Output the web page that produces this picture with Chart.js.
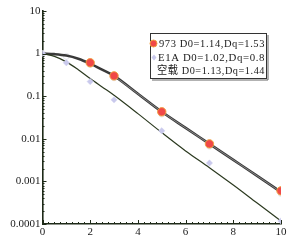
<!DOCTYPE html>
<html>
<head>
<meta charset="utf-8">
<script src="https://cdn.jsdelivr.net/npm/chart.js@4"></script>
<style>
  html, body { margin: 0; padding: 0; background: #fff; }
  canvas { display: block; }
</style>
</head>
<body>
<canvas id="survival-chart" width="300" height="249"></canvas>
<script>
// dose (x) and surviving fraction (y)
const doseX = [0, 2, 3, 5, 7, 10];
const cell973 = [1, 0.61, 0.30, 0.043, 0.0076, 0.0006];
const e1aX = [0, 1, 2, 3, 5, 7, 10];
const cellE1A = [1, 0.61, 0.22, 0.082, 0.0154, 0.0027, 0.000118];
const emptyX = [0, 1, 2, 3, 5, 7, 10];
const cellEmpty = [1, 0.86, 0.56, 0.27, 0.038, 0.0067, 0.00052];
const fitX = [0, 0.5, 1, 1.5, 2, 2.5, 3, 4, 5, 6, 7, 8, 9, 10];
const fitUpper = [1, 0.97, 0.9, 0.76, 0.58, 0.42, 0.30, 0.114, 0.043, 0.018, 0.0076, 0.0032, 0.00135, 0.00056];
const fitLower = [1, 0.86, 0.64, 0.42, 0.26, 0.165, 0.105, 0.039, 0.014, 0.0052, 0.0021, 0.00082, 0.00031, 0.000118];
const yTicks = [10, 1, 0.1, 0.01, 0.001, 0.0001];
const xTicks = [0, 2, 4, 6, 8, 10];
const legendLabels = ['973 D0=1.14,Dq=1.53', 'E1A D0=1.02,Dq=0.8', '空载 D0=1.13,Dq=1.44'];

const pts = (xs, ys) => xs.map((x, i) => ({ x: x, y: ys[i] }));

// inside tick marks, like the printed figure
const innerTicks = {
    id: 'innerTicks',
    afterDraw(chart) {
        const ctx = chart.ctx, x = chart.scales.x, y = chart.scales.y;
        const a = chart.chartArea;
        ctx.save();
        ctx.strokeStyle = '#1e2a18';
        ctx.lineWidth = 1;
        ctx.beginPath();
        for (let e = -4; e < 1; e++) {
            for (let k = 1; k <= 9; k++) {
                const v = k * Math.pow(10, e);
                const py = Math.round(y.getPixelForValue(v)) + 0.5;
                ctx.moveTo(a.left, py);
                ctx.lineTo(a.left + (k === 1 ? 4 : 2), py);
            }
        }
        const ptop = Math.round(y.getPixelForValue(10)) + 0.5;
        ctx.moveTo(a.left, ptop); ctx.lineTo(a.left + 4, ptop);
        for (let v = 0; v <= 10; v += 0.25) {
            const px = Math.round(x.getPixelForValue(v)) + 0.5;
            ctx.moveTo(px, a.bottom);
            ctx.lineTo(px, a.bottom - (v % 2 === 0 ? 4 : 2));
        }
        ctx.stroke();
        ctx.restore();
    }
};

// boxed legend inside the plot
const boxLegend = {
    id: 'boxLegend',
    afterDraw(chart) {
        const ctx = chart.ctx;
        const left = 150, top = 33, w = 116, h = 45;
        ctx.save();
        ctx.fillStyle = '#fff';
        ctx.fillRect(left, top, w, h);
        ctx.strokeStyle = '#333';
        ctx.lineWidth = 1;
        ctx.strokeRect(left + 0.5, top + 0.5, w, h);
        ctx.strokeStyle = '#666';
        ctx.beginPath();
        ctx.moveTo(left + w + 2, top + 2); ctx.lineTo(left + w + 2, top + h + 2); ctx.lineTo(left + 2, top + h + 2);
        ctx.stroke();

        ctx.fillStyle = '#f04848';
        ctx.strokeStyle = '#f0a040';
        ctx.beginPath(); ctx.arc(153.5, 43.5, 3.5, 0, Math.PI * 2); ctx.fill(); ctx.stroke();
        ctx.fillStyle = '#c9c9ec';
        ctx.beginPath();
        ctx.moveTo(154, 54.5); ctx.lineTo(156.5, 57.5); ctx.lineTo(154, 60.5); ctx.lineTo(151.5, 57.5);
        ctx.closePath(); ctx.fill();

        ctx.fillStyle = '#1a1a1a';
        ctx.font = "11px 'Liberation Serif', 'Noto Sans CJK SC', serif";
        ctx.textBaseline = 'middle';
        ctx.letterSpacing = '0.6px';
        const xs = [159, 158, 157], ys = [44, 58, 71.5];
        legendLabels.forEach((t, i) => ctx.fillText(t, xs[i], ys[i], 265 - xs[i]));
        ctx.restore();
    }
};

new Chart(document.getElementById('survival-chart'), {
    type: 'scatter',
    data: {
        datasets: [{
            label: '空载',
            data: pts(emptyX, cellEmpty),
            pointRadius: 3,
            pointBackgroundColor: '#ffffff',
            pointBorderColor: '#e6e6ee',
            pointBorderWidth: 1,
            order: 5
        }, {
            label: 'fit upper',
            data: pts(fitX, fitUpper),
            showLine: true,
            pointRadius: 0,
            borderColor: '#3a3a3a',
            borderWidth: 2.6,
            cubicInterpolationMode: 'monotone',
            order: 4
        }, {
            label: 'fit upper core',
            data: pts(fitX.slice(6), fitUpper.slice(6)),
            showLine: true,
            pointRadius: 0,
            borderColor: '#9a9a9a',
            borderWidth: 0.8,
            cubicInterpolationMode: 'monotone',
            order: 3
        }, {
            label: 'fit lower',
            data: pts(fitX, fitLower),
            showLine: true,
            pointRadius: 0,
            borderColor: '#2c3a20',
            borderWidth: 1.2,
            cubicInterpolationMode: 'monotone',
            order: 3
        }, {
            label: 'E1A',
            data: pts(e1aX, cellE1A),
            pointStyle: 'rectRot',
            pointRadius: 3.2,
            pointBackgroundColor: '#c9c9ec',
            pointBorderColor: '#d6d6f2',
            pointBorderWidth: 0.5,
            order: 2
        }, {
            label: '973',
            data: pts(doseX, cell973),
            pointRadius: [0, 4.2, 4.2, 4.2, 4.2, 4.2],
            pointBackgroundColor: '#f04848',
            pointBorderColor: '#f0a040',
            pointBorderWidth: 1,
            order: 1
        }]
    },
    options: {
        responsive: false,
        animation: false,
        devicePixelRatio: 1,
        layout: {
            padding: { top: 11, right: 19, left: 0, bottom: 0 }
        },
        plugins: {
            legend: { display: false },
            tooltip: { enabled: false }
        },
        scales: {
            x: {
                type: 'linear',
                min: 0,
                max: 10,
                afterFit: s => { s.height = 25; },
                afterBuildTicks: s => { s.ticks = xTicks.map(v => ({ value: v })); },
                grid: { display: false, drawTicks: false },
                border: { display: true, color: '#1e2a18', width: 1.6 },
                ticks: {
                    padding: 2,
                    color: '#1a1a1a',
                    maxRotation: 0,
                    font: { family: "'Liberation Serif', serif", size: 11 }
                }
            },
            y: {
                type: 'logarithmic',
                min: 0.0001,
                max: 10,
                afterFit: s => { s.width = 42.5; },
                afterBuildTicks: s => { s.ticks = yTicks.map(v => ({ value: v })); },
                grid: { display: false, drawTicks: false },
                border: { display: true, color: '#1e2a18', width: 1.6 },
                ticks: {
                    padding: 2,
                    color: '#1a1a1a',
                    font: { family: "'Liberation Serif', serif", size: 11 },
                    callback: v => String(v)
                }
            }
        }
    },
    plugins: [innerTicks, boxLegend]
});
</script>
</body>
</html>
